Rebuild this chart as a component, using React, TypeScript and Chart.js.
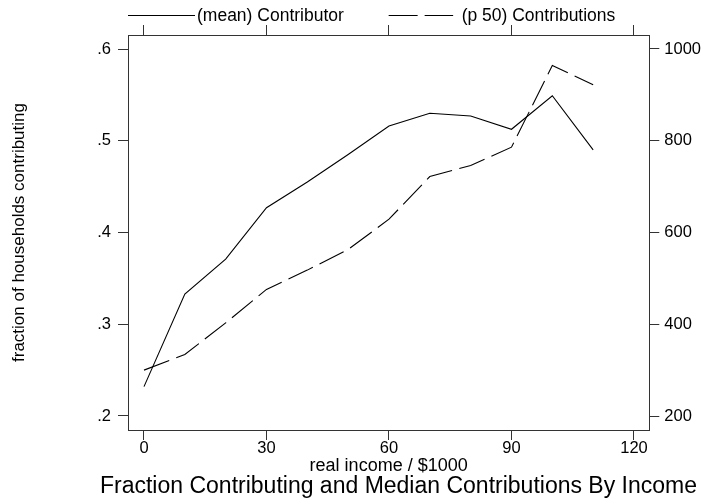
import React, { useEffect, useRef } from "react";
import { Chart, registerables } from "chart.js";

Chart.register(...registerables);

// ---- data ----
const incomeLevels = [0, 10, 20, 30, 40, 50, 60, 70, 80, 90, 100, 110];
const meanContributor = [0.232, 0.333, 0.371, 0.427, 0.455, 0.485, 0.516, 0.53, 0.527, 0.5125, 0.549, 0.49];
const p50Contributions = [300, 334, 403, 476, 518, 563, 629, 722, 746, 786, 964, 922];
const xTicks = [0, 30, 60, 90, 120];
const leftTicks = [0.2, 0.3, 0.4, 0.5, 0.6];
const rightTicks = [200, 400, 600, 800, 1000];
const seriesNames = ["(mean) Contributor", "(p 50) Contributions"];
const chartTitle = "Fraction Contributing and Median Contributions By Income";
const xTitle = "real income / $1000";
const yTitle = "fraction of households contributing";

const FONT = "'Liberation Sans', Arial, Helvetica, sans-serif";
const AXIS = "#333333";

const decorPlugin = {
  id: "stataDecor",
  afterDraw(chart: any) {
    const ctx = chart.ctx as CanvasRenderingContext2D;
    const area = chart.chartArea;
    ctx.save();
    // legend
    ctx.strokeStyle = "#000";
    ctx.lineWidth = 1;
    ctx.fillStyle = "#000";
    ctx.font = `17.5px ${FONT}`;
    ctx.textBaseline = "alphabetic";
    ctx.textAlign = "left";
    const ly = 15.5;
    const x1 = area.left;
    ctx.setLineDash([]);
    ctx.beginPath();
    ctx.moveTo(x1, ly);
    ctx.lineTo(x1 + 67, ly);
    ctx.stroke();
    ctx.fillText(seriesNames[0], x1 + 69, 21);
    const x2 = (area.left + area.right) / 2;
    ctx.setLineDash([29, 7]);
    ctx.beginPath();
    ctx.moveTo(x2, ly);
    ctx.lineTo(x2 + 64.5, ly);
    ctx.stroke();
    ctx.setLineDash([]);
    ctx.fillText(seriesNames[1], x2 + 73, 21);
    // main title
    ctx.font = `23px ${FONT}`;
    ctx.textAlign = "center";
    ctx.fillText(chartTitle, 398.5, 493);
    ctx.restore();
  },
};

export default function App() {
  const ref = useRef<HTMLCanvasElement | null>(null);
  useEffect(() => {
    if (!ref.current) return;
    const xMin = -3.918;
    const xMax = 123.75;
    const chart = new Chart(ref.current, {
      type: "line",
      data: {
        datasets: [
          {
            label: seriesNames[0],
            data: incomeLevels.map((x, i) => ({ x, y: meanContributor[i] })),
            borderColor: "#000",
            borderWidth: 1.1,
            pointRadius: 0,
            fill: false,
            tension: 0,
            xAxisID: "x",
            yAxisID: "y",
          },
          {
            label: seriesNames[1],
            data: incomeLevels.map((x, i) => ({ x, y: p50Contributions[i] })),
            borderColor: "#000",
            borderWidth: 1.1,
            borderDash: [27, 7.5],
            pointRadius: 0,
            fill: false,
            tension: 0,
            xAxisID: "x",
            yAxisID: "y1",
          },
        ],
      },
      options: {
        responsive: false,
        animation: false,
        devicePixelRatio: 1,
        layout: { padding: { top: 25, left: 0, right: 0, bottom: 0 } },
        plugins: {
          legend: { display: false },
          title: { display: false },
          tooltip: { enabled: false },
        },
        scales: {
          x: {
            type: "linear",
            position: "bottom",
            min: xMin,
            max: xMax,
            afterBuildTicks: (s: any) => {
              s.ticks = xTicks.map((v) => ({ value: v }));
            },
            afterFit: (s: any) => {
              s.height = 72;
            },
            ticks: {
              color: "#000",
              padding: 0,
              maxRotation: 0,
              font: { family: FONT, size: 16.5, lineHeight: 1 },
              callback: (v: any) => String(v),
            },
            grid: { drawOnChartArea: false, drawTicks: true, tickLength: 10, color: AXIS, lineWidth: 1 },
            border: { display: true, color: AXIS, width: 1 },
            title: {
              display: true,
              text: xTitle,
              color: "#000",
              font: { family: FONT, size: 18, lineHeight: 1.2 },
              padding: { top: 0, bottom: 25 },
            },
          },
          x2: {
            type: "linear",
            position: "top",
            min: xMin,
            max: xMax,
            afterBuildTicks: (s: any) => {
              s.ticks = xTicks.map((v) => ({ value: v }));
            },
            afterFit: (s: any) => {
              s.height = 10;
            },
            ticks: { display: false },
            grid: { drawOnChartArea: false, drawTicks: true, tickLength: 10, color: AXIS, lineWidth: 1 },
            border: { display: true, color: AXIS, width: 1 },
          },
          y: {
            type: "linear",
            position: "left",
            min: 0.18474,
            max: 0.61526,
            afterBuildTicks: (s: any) => {
              s.ticks = leftTicks.map((v) => ({ value: v }));
            },
            afterFit: (s: any) => {
              s.width = 128;
            },
            ticks: {
              color: "#000",
              padding: 7,
              font: { family: FONT, size: 16.5 },
              callback: (v: any) => Number(v).toFixed(1).replace(/^0/, ""),
            },
            grid: { drawOnChartArea: false, drawTicks: true, tickLength: 10, color: AXIS, lineWidth: 1 },
            border: { display: true, color: AXIS, width: 1 },
            title: {
              display: true,
              text: yTitle,
              color: "#000",
              font: { family: FONT, size: 17, lineHeight: 1.2 },
              padding: { top: 9, bottom: 0 },
            },
          },
          y1: {
            type: "linear",
            position: "right",
            min: 169.5,
            max: 1030.5,
            afterBuildTicks: (s: any) => {
              s.ticks = rightTicks.map((v) => ({ value: v }));
            },
            afterFit: (s: any) => {
              s.width = 59.7;
            },
            ticks: {
              color: "#000",
              padding: 5,
              font: { family: FONT, size: 16.5 },
              callback: (v: any) => String(v),
            },
            grid: { drawOnChartArea: false, drawTicks: true, tickLength: 10, color: AXIS, lineWidth: 1 },
            border: { display: true, color: AXIS, width: 1 },
          },
        },
      },
      plugins: [decorPlugin],
    } as any);
    return () => chart.destroy();
  }, []);
  return (
    <div style={{ position: "absolute", left: 0, top: 0, width: 709, height: 502, background: "#fff" }}>
      <canvas ref={ref} width={709} height={502} style={{ display: "block" }} />
    </div>
  );
}
